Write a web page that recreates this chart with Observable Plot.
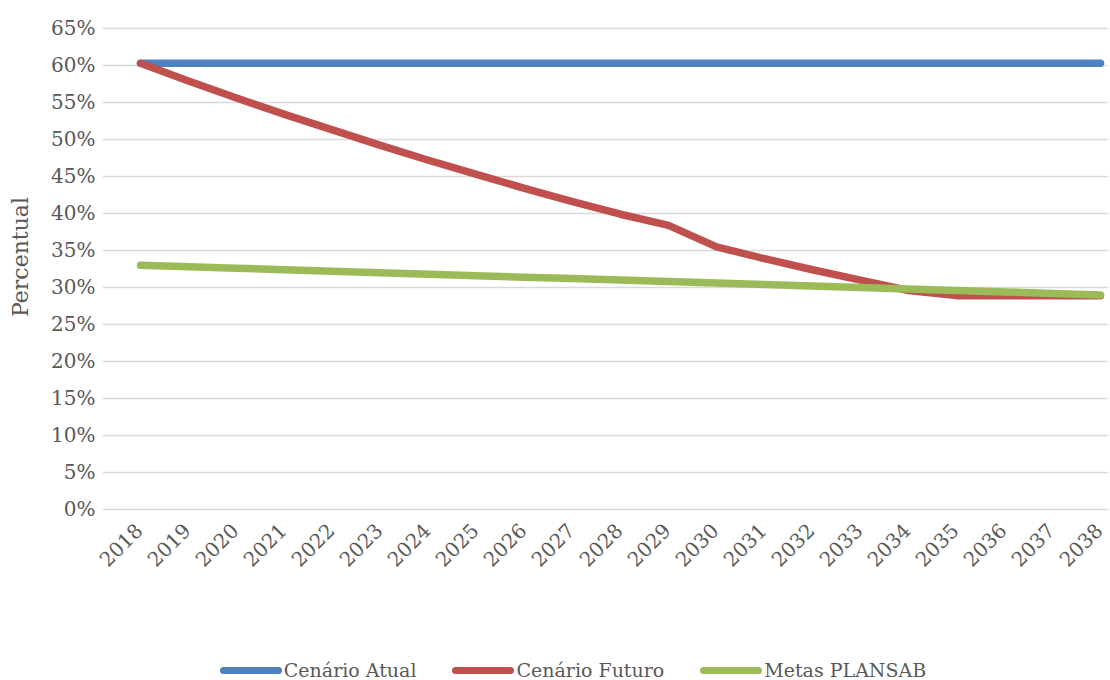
<!DOCTYPE html>
<html>
<head>
<meta charset="utf-8">
<script src="https://cdn.jsdelivr.net/npm/d3@7"></script>
<script src="https://cdn.jsdelivr.net/npm/@observablehq/plot@0.6"></script>
<style>
  body { margin: 0; background: #fff; font-family: "DejaVu Serif", serif; }
  #chart { width: 1110px; }
  #legend { display: flex; justify-content: center; align-items: center; gap: 36px; height: 40px; margin-top: 10px; padding-left: 36px; box-sizing: border-box; width: 1110px; color: #595959; font-size: 19px; }
  .item { display: flex; align-items: center; gap: 2px; }
  .sw { width: 62px; height: 7px; border-radius: 4px; }
</style>
</head>
<body>
<div id="chart"></div>
<div id="legend"></div>
<script>
const years = [2018, 2019, 2020, 2021, 2022, 2023, 2024, 2025, 2026, 2027, 2028, 2029, 2030, 2031, 2032, 2033, 2034, 2035, 2036, 2037, 2038];
const cenarioAtual = [60.3, 60.3, 60.3, 60.3, 60.3, 60.3, 60.3, 60.3, 60.3, 60.3, 60.3, 60.3, 60.3, 60.3, 60.3, 60.3, 60.3, 60.3, 60.3, 60.3, 60.3];
const cenarioFuturo = [60.3, 57.9, 55.6, 53.4, 51.3, 49.2, 47.2, 45.3, 43.4, 41.6, 39.9, 38.4, 35.5, 33.9, 32.4, 31.0, 29.6, 28.9, 28.9, 28.9, 28.9];
const metasPlansab = [33.0, 32.8, 32.6, 32.4, 32.2, 32.0, 31.8, 31.6, 31.4, 31.2, 31.0, 30.8, 30.6, 30.4, 30.2, 30.0, 29.8, 29.6, 29.4, 29.2, 29.0];
const seriesNames = ["Cenário Atual", "Cenário Futuro", "Metas PLANSAB"];
const seriesColors = ["#4F81BD", "#C0504D", "#9BBB59"];
const yTicks = [0, 5, 10, 15, 20, 25, 30, 35, 40, 45, 50, 55, 60, 65];
const yLabel = "Percentual";

const seriesValues = [cenarioAtual, cenarioFuturo, metasPlansab];
const rows = [];
seriesNames.forEach((name, i) => {
  years.forEach((yr, j) => rows.push({series: name, year: yr, value: seriesValues[i][j]}));
});

const chart = Plot.plot({
  width: 1110,
  height: 640,
  marginLeft: 103,
  marginRight: 2,
  marginTop: 28,
  marginBottom: 131,
  insetLeft: 37,
  insetRight: 8,
  style: {fontFamily: "DejaVu Serif", fontSize: "20px", color: "#595959", background: "white"},
  x: {domain: [2018, 2038], axis: null},
  y: {domain: [0, 65], axis: null},
  color: {domain: seriesNames, range: seriesColors},
  marks: [
    Plot.ruleY(yTicks, {stroke: "#D9D9D9", strokeWidth: 1.5}),
    Plot.axisY(yTicks, {tickSize: 0, tickPadding: 8, tickFormat: d => d + "%", fontSize: 20, label: null}),
    Plot.text(years, {x: d => d, frameAnchor: "bottom", text: d => String(d), rotate: -45, textAnchor: "end", lineAnchor: "middle", dx: -1, dy: 18, fontSize: 20, fill: "#595959"}),
    Plot.text([yLabel], {frameAnchor: "left", text: d => d, rotate: -90, textAnchor: "middle", dx: -83, dy: -12, fontSize: 22, fill: "#595959"}),
    Plot.line(rows, {x: "year", y: "value", z: "series", stroke: "series", strokeWidth: 7.5, strokeLinecap: "round", strokeLinejoin: "round"})
  ]
});
document.getElementById("chart").appendChild(chart);

const legend = document.getElementById("legend");
seriesNames.forEach((name, i) => {
  const item = document.createElement("div");
  item.className = "item";
  const sw = document.createElement("div");
  sw.className = "sw";
  sw.style.background = seriesColors[i];
  const label = document.createElement("span");
  label.textContent = name;
  item.appendChild(sw);
  item.appendChild(label);
  legend.appendChild(item);
});
</script>
</body>
</html>
